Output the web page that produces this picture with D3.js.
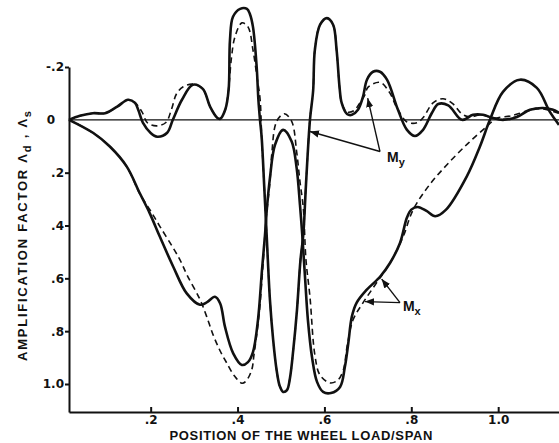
<!DOCTYPE html>
<html>
<head>
<meta charset="utf-8">
<script src="https://cdn.jsdelivr.net/npm/d3@7"></script>
<style>
  html, body { margin: 0; padding: 0; background: #fff; }
  svg { display: block; }
  .axis text { font-family: "DejaVu Sans", "Liberation Sans", sans-serif; font-weight: bold; font-size: 12px; fill: #111; }
  .axis path, .axis line { stroke: #111; stroke-width: 2; }
  .title { font-family: "Liberation Sans", Arial, sans-serif; font-weight: bold; fill: #111; }
</style>
</head>
<body>
<svg id="chart" width="559" height="443"></svg>
<script>
// tick values
const xTicks = [0.2, 0.4, 0.6, 0.8, 1.0];
const yTicks = [-0.2, 0, 0.2, 0.4, 0.6, 0.8, 1.0];

// M_y, dynamic (solid)
const myDynamic = [
  [0.012, 0], [0.037, -0.015], [0.067, -0.025], [0.095, -0.025], [0.123, -0.05],
  [0.148, -0.076], [0.164, -0.064], [0.172, -0.035], [0.182, 0.011], [0.2, 0.05],
  [0.215, 0.064], [0.238, 0.049], [0.251, 0], [0.272, -0.076], [0.297, -0.133],
  [0.32, -0.117], [0.337, -0.049], [0.353, -0.008], [0.36, -0.004], [0.372, -0.04],
  [0.3795, -0.114], [0.3826, -0.303], [0.3895, -0.39], [0.406, -0.42], [0.4217, -0.42],
  [0.4286, -0.4], [0.4355, -0.352], [0.444, -0.201], [0.448, -0.076], [0.4517, 0],
  [0.4556, 0.068], [0.4616, 0.258], [0.467, 0.436], [0.4746, 0.682], [0.482, 0.833],
  [0.4899, 0.947], [0.4972, 1.008], [0.505, 1.03], [0.5138, 1.023], [0.5207, 0.977],
  [0.5283, 0.871], [0.5368, 0.72], [0.5449, 0.53], [0.5513, 0.436], [0.5575, 0.246],
  [0.5667, 0], [0.574, -0.11], [0.578, -0.265], [0.59, -0.36], [0.6059, -0.385],
  [0.62, -0.36], [0.628, -0.265], [0.635, -0.12], [0.6397, -0.064], [0.652, -0.022],
  [0.6634, -0.019], [0.6772, -0.038], [0.6887, -0.087], [0.6979, -0.152], [0.7118, -0.182],
  [0.7279, -0.182], [0.744, -0.152], [0.7693, -0.038], [0.79, 0.038], [0.8085, 0.061],
  [0.827, 0.038], [0.8476, -0.027], [0.862, -0.06], [0.885, -0.055], [0.9167, 0],
  [0.942, -0.019], [0.965, -0.019], [0.9857, -0.008], [1.011, 0], [1.0433, -0.011],
  [1.0733, -0.038], [1.1032, -0.045], [1.1262, -0.038], [1.14, -0.027]
];

// M_y, static (dashed)
const myStatic = [
  [0.012, 0], [0.037, -0.015], [0.067, -0.025], [0.095, -0.025], [0.123, -0.05],
  [0.148, -0.076], [0.164, -0.065], [0.18, -0.03], [0.193, 0.012], [0.214, 0.023],
  [0.235, 0.01], [0.248, -0.04], [0.26, -0.1], [0.275, -0.125], [0.297, -0.135],
  [0.32, -0.117], [0.337, -0.049], [0.353, -0.008], [0.36, -0.004], [0.372, -0.04],
  [0.3795, -0.12], [0.386, -0.235], [0.394, -0.314], [0.41, -0.367], [0.424, -0.352],
  [0.4355, -0.265], [0.4447, -0.163], [0.452, -0.076], [0.4556, 0.068], [0.4616, 0.258],
  [0.467, 0.436], [0.4746, 0.682], [0.482, 0.833], [0.4899, 0.947], [0.4972, 1.008],
  [0.505, 1.03], [0.5138, 1.023], [0.5207, 0.977], [0.5283, 0.871], [0.5368, 0.72],
  [0.5449, 0.53], [0.5513, 0.436], [0.5575, 0.246], [0.5667, 0], [0.574, -0.11],
  [0.578, -0.265], [0.59, -0.36], [0.6059, -0.385], [0.62, -0.36], [0.628, -0.265],
  [0.635, -0.12], [0.6397, -0.064], [0.652, -0.03], [0.668, -0.035], [0.682, -0.065],
  [0.6934, -0.095], [0.70, -0.123], [0.728, -0.142], [0.7505, -0.102], [0.767, -0.045],
  [0.79, 0.008], [0.813, 0.011], [0.827, -0.008], [0.85, -0.064], [0.873, -0.08],
  [0.896, -0.06], [0.9167, -0.022], [0.935, -0.011], [0.958, -0.019], [0.981, -0.011],
  [1.011, -0.002], [1.0433, -0.013], [1.0733, -0.038], [1.1032, -0.045], [1.1262, -0.038],
  [1.14, -0.027]
];

// M_x, dynamic (solid)
const mxDynamic = [
  [0.012, 0], [0.068, 0.05], [0.106, 0.101], [0.145, 0.177], [0.175, 0.278],
  [0.198, 0.354], [0.221, 0.442], [0.252, 0.556], [0.283, 0.657], [0.3135, 0.70],
  [0.33, 0.69], [0.348, 0.67], [0.36, 0.695], [0.371, 0.783], [0.39, 0.884],
  [0.41, 0.928], [0.424, 0.917], [0.4355, 0.879], [0.447, 0.758], [0.4563, 0.568],
  [0.4632, 0.436], [0.467, 0.347], [0.4746, 0.22], [0.4862, 0.095], [0.505, 0.038],
  [0.5246, 0.082], [0.536, 0.182], [0.5437, 0.322], [0.549, 0.436], [0.555, 0.587],
  [0.562, 0.758], [0.5714, 0.898], [0.583, 0.992], [0.597, 1.03], [0.615, 1.034],
  [0.636, 1.011], [0.647, 0.936], [0.655, 0.845], [0.663, 0.746], [0.674, 0.693],
  [0.697, 0.644], [0.728, 0.594], [0.751, 0.542], [0.774, 0.466], [0.79, 0.37],
  [0.80, 0.34], [0.815, 0.33], [0.835, 0.345], [0.855, 0.365], [0.88, 0.34],
  [0.9275, 0.215], [0.958, 0.101], [0.981, 0], [1.011, -0.106], [1.05, -0.152],
  [1.089, -0.121], [1.119, -0.03], [1.14, 0.019]
];

// M_x, static (dashed)
const mxStatic = [
  [0.012, 0], [0.068, 0.05], [0.106, 0.101], [0.145, 0.177], [0.175, 0.28],
  [0.2, 0.345], [0.2214, 0.404], [0.25, 0.48], [0.2675, 0.53], [0.283, 0.585],
  [0.3135, 0.68], [0.329, 0.745], [0.344, 0.815], [0.36, 0.875], [0.375, 0.92],
  [0.393, 0.97], [0.41, 0.997], [0.4194, 0.989], [0.4325, 0.947], [0.4378, 0.89],
  [0.4494, 0.739], [0.4586, 0.549], [0.4655, 0.379], [0.4746, 0.234], [0.4786, 0.133],
  [0.49, 0.006], [0.5076, -0.023], [0.5246, 0.006], [0.536, 0.12], [0.5437, 0.234],
  [0.5513, 0.333], [0.5575, 0.53], [0.5667, 0.67], [0.578, 0.89], [0.5898, 0.966],
  [0.6132, 0.996], [0.631, 0.985], [0.6436, 0.947], [0.652, 0.86], [0.6657, 0.758],
  [0.6887, 0.693], [0.72, 0.617], [0.751, 0.542], [0.781, 0.443], [0.804, 0.341],
  [0.84, 0.25], [0.882, 0.17], [0.93, 0.09], [0.974, 0.025], [0.995, -0.005],
  [1.03, -0.015], [1.07, -0.035], [1.1, -0.042], [1.14, -0.025]
];

// leader lines: [junction, tip1, tip2], label anchor (data units)
const myLeader = [[0.7279, 0.12], [0.5668, 0.044], [0.6996, -0.082]];
const myLabelAt = [0.744, 0.159];
const mxLeader = [[0.774, 0.692], [0.6934, 0.688], [0.7318, 0.603]];
const mxLabelAt = [0.7807, 0.723];

const svg = d3.select("#chart");

const x = d3.scaleLinear().domain([0.012, 1.14]).range([69, 559]);
const y = d3.scaleLinear().domain([-0.2, 1.106]).range([67, 412]);

const fmt = d => d === 1 ? "1.0" : d === 0 ? "0" : (d < 0 ? "-" : "") + String(Math.abs(d)).replace(/^0/, "");

// zero line
svg.append("line")
    .attr("x1", x(0.012)).attr("x2", x(1.14))
    .attr("y1", y(0)).attr("y2", y(0))
    .attr("stroke", "#111").attr("stroke-width", 1.3);

const gX = svg.append("g")
    .attr("class", "axis")
    .attr("transform", "translate(0," + y(1.106) + ")")
    .call(d3.axisBottom(x).tickValues(xTicks).tickFormat(fmt).tickSize(-5).tickSizeOuter(0).tickPadding(3));
gX.selectAll(".tick text").attr("dy", "0.71em");

const gY = svg.append("g")
    .attr("class", "axis")
    .attr("transform", "translate(" + x(0.012) + ",0)")
    .call(d3.axisLeft(y).tickValues(yTicks).tickFormat(fmt).tickSize(4).tickSizeOuter(0).tickPadding(1));
gY.selectAll(".tick").filter(d => d === 0).select("line").remove();
gY.selectAll(".tick").filter(d => d === 0).select("text").attr("x", -14);

const line = d3.line()
    .x(d => x(d[0]))
    .y(d => y(d[1]))
    .curve(d3.curveCatmullRom.alpha(0.5));

svg.append("path").datum(mxStatic)
    .attr("d", line).attr("fill", "none")
    .attr("stroke", "#111").attr("stroke-width", 1.6).attr("stroke-dasharray", "6,4");
svg.append("path").datum(myStatic)
    .attr("d", line).attr("fill", "none")
    .attr("stroke", "#111").attr("stroke-width", 1.6).attr("stroke-dasharray", "6,4");
svg.append("path").datum(mxDynamic)
    .attr("d", line).attr("fill", "none")
    .attr("stroke", "#111").attr("stroke-width", 2.6).attr("stroke-linejoin", "round");
svg.append("path").datum(myDynamic)
    .attr("d", line).attr("fill", "none")
    .attr("stroke", "#111").attr("stroke-width", 2.6).attr("stroke-linejoin", "round");

// arrowhead
svg.append("defs").append("marker")
    .attr("id", "head")
    .attr("viewBox", "0 0 10 10")
    .attr("refX", 10).attr("refY", 5)
    .attr("markerWidth", 9).attr("markerHeight", 9)
    .attr("markerUnits", "userSpaceOnUse")
    .attr("orient", "auto")
  .append("path")
    .attr("d", "M0,1L10,5L0,9z")
    .attr("fill", "#111");

function leader(pts) {
  const j = pts[0];
  pts.slice(1).forEach(t => {
    svg.append("line")
        .attr("x1", x(j[0])).attr("y1", y(j[1]))
        .attr("x2", x(t[0])).attr("y2", y(t[1]))
        .attr("stroke", "#111").attr("stroke-width", 1.4)
        .attr("marker-end", "url(#head)");
  });
}
leader(myLeader);
leader(mxLeader);

function label(at, sub) {
  const t = svg.append("text")
      .attr("class", "title")
      .attr("x", x(at[0])).attr("y", y(at[1]))
      .attr("font-size", 14);
  t.append("tspan").text("M");
  t.append("tspan").attr("font-size", 11).attr("dy", 4).text(sub);
}
label(myLabelAt, "y");
label(mxLabelAt, "x");

// axis titles
svg.append("text")
    .attr("class", "title")
    .attr("x", 301).attr("y", 440)
    .attr("text-anchor", "middle")
    .attr("font-size", 13)
    .attr("textLength", 263).attr("lengthAdjust", "spacing")
    .text("POSITION  OF  THE  WHEEL  LOAD/SPAN");

const yt = svg.append("text")
    .attr("class", "title")
    .attr("transform", "translate(27,236) rotate(-90)")
    .attr("text-anchor", "middle")
    .attr("font-size", 13)
    .attr("textLength", 250).attr("lengthAdjust", "spacing");
yt.append("tspan").text("AMPLIFICATION  FACTOR  \u039B");
yt.append("tspan").attr("font-size", 11).attr("dy", 4).text("d");
yt.append("tspan").attr("dy", -4).text(" , \u039B");
yt.append("tspan").attr("font-size", 11).attr("dy", 4).text("s");
</script>
</body>
</html>
